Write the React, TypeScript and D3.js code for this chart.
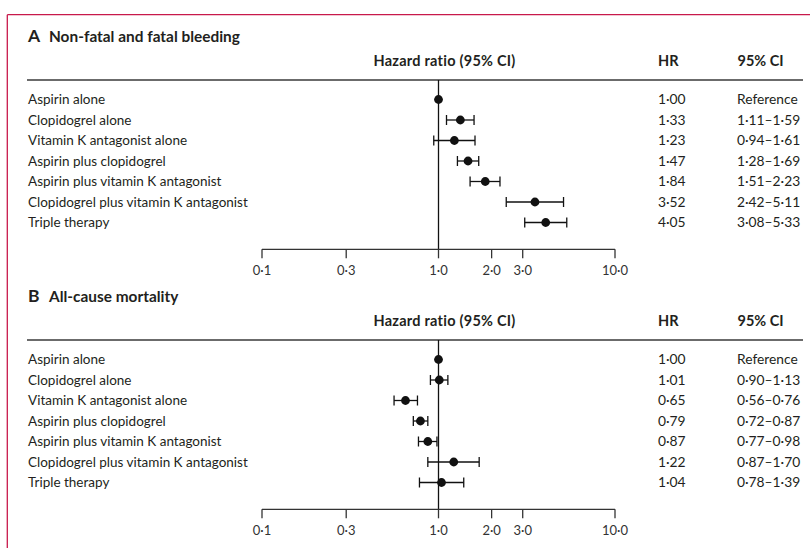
import React from 'react'
import * as d3 from 'd3'

const treatments = [
  'Aspirin alone',
  'Clopidogrel alone',
  'Vitamin K antagonist alone',
  'Aspirin plus clopidogrel',
  'Aspirin plus vitamin K antagonist',
  'Clopidogrel plus vitamin K antagonist',
  'Triple therapy',
]

// panel A: non-fatal and fatal bleeding
const bleedHR = [1.0, 1.33, 1.23, 1.47, 1.84, 3.52, 4.05]
const bleedLo = [null, 1.11, 0.94, 1.28, 1.51, 2.42, 3.08]
const bleedHi = [null, 1.59, 1.61, 1.69, 2.23, 5.11, 5.33]

// panel B: all-cause mortality
const mortHR = [1.0, 1.01, 0.65, 0.79, 0.87, 1.22, 1.04]
const mortLo = [null, 0.9, 0.56, 0.72, 0.77, 0.87, 0.78]
const mortHi = [null, 1.13, 0.76, 0.87, 0.98, 1.7, 1.39]

const tickValues = [0.1, 0.3, 1, 2, 3, 10]

const FONT = 'Lato, "Open Sans", sans-serif'
const INK = '#231f20'

const dot = (s: string) => s.replace(/\./g, '\u00b7')
const fmt2 = (v: number) => dot(d3.format('.2f')(v))
const fmt1 = (v: number) => dot(d3.format('.1f')(v))

const x = d3.scaleLog().domain([0.1, 10]).range([262, 615])
const y = d3.scalePoint<number>().domain(d3.range(treatments.length)).range([99.5, 222.5])

const AXIS_Y = 249.3

type PanelProps = {
  offset: number
  letter: string
  title: string
  hr: number[]
  lo: (number | null)[]
  hi: (number | null)[]
}

const Panel = ({ offset, letter, title, hr, lo, hi }: PanelProps) => {
  return (
    <g transform={`translate(0,${offset})`} fontFamily={FONT} fill={INK}>
      <text x={28} y={42} fontWeight={700} fontSize={17.5}>{letter}</text>
      <text x={49} y={42} fontWeight={700} fontSize={15.4}>{title}</text>

      <text x={444.5} y={66} fontWeight={700} fontSize={14.5} letterSpacing={0.25} textAnchor="middle">Hazard ratio (95% CI)</text>
      <text x={658} y={66} fontWeight={700} fontSize={14.5}>HR</text>
      <text x={737.5} y={66} fontWeight={700} fontSize={14.5}>95% CI</text>
      <line x1={27} x2={803} y1={80} y2={80} stroke="#6b6b6b" strokeWidth={2} />

      {treatments.map((t, i) => (
        <g key={t}>
          <text x={28} y={y(i)} dy="0.35em" fontSize={13.5}>{t}</text>
          <text x={658} y={y(i)} dy="0.35em" fontSize={13.8}>{fmt2(hr[i])}</text>
          <text x={737} y={y(i)} dy="0.35em" fontSize={13.8}>
            {lo[i] == null ? 'Reference' : `${fmt2(lo[i] as number)}\u2013${fmt2(hi[i] as number)}`}
          </text>
        </g>
      ))}

      <line x1={x(1)} x2={x(1)} y1={80} y2={AXIS_Y} stroke="#111" strokeWidth={1.3} />

      {treatments.map((t, i) => {
        const yy = y(i) as number
        return (
          <g key={'m' + t}>
            {lo[i] != null && (
              <g stroke="#111" strokeWidth={1.3}>
                <line x1={x(lo[i] as number)} x2={x(hi[i] as number)} y1={yy} y2={yy} />
                <line x1={x(lo[i] as number)} x2={x(lo[i] as number)} y1={yy - 5} y2={yy + 5} />
                <line x1={x(hi[i] as number)} x2={x(hi[i] as number)} y1={yy - 5} y2={yy + 5} />
              </g>
            )}
            <circle cx={x(hr[i])} cy={yy} r={4.4} fill="#111" />
          </g>
        )
      })}

      <line x1={x(0.1)} x2={x(10)} y1={AXIS_Y} y2={AXIS_Y} stroke="#333" strokeWidth={1.3} />
      {tickValues.map(v => (
        <g key={v}>
          <line x1={x(v)} x2={x(v)} y1={AXIS_Y} y2={AXIS_Y + 9} stroke="#333" strokeWidth={1.3} />
          <text x={x(v)} y={270} dy="0.35em" textAnchor="middle" fontSize={13} fill="#333">{fmt1(v)}</text>
        </g>
      ))}
    </g>
  )
}

export default function App() {
  return (
    <svg width={810} height={548} style={{ position: 'absolute', left: 0, top: 0, background: '#fff' }}>
      <line x1={7.3} x2={810} y1={14.7} y2={14.7} stroke="#c8194b" strokeWidth={1.3} />
      <line x1={7.3} x2={7.3} y1={14.7} y2={548} stroke="#c8194b" strokeWidth={1.3} />
      <Panel offset={0} letter="A" title="Non-fatal and fatal bleeding" hr={bleedHR} lo={bleedLo} hi={bleedHi} />
      <Panel offset={260} letter="B" title="All-cause mortality" hr={mortHR} lo={mortLo} hi={mortHi} />
    </svg>
  )
}
